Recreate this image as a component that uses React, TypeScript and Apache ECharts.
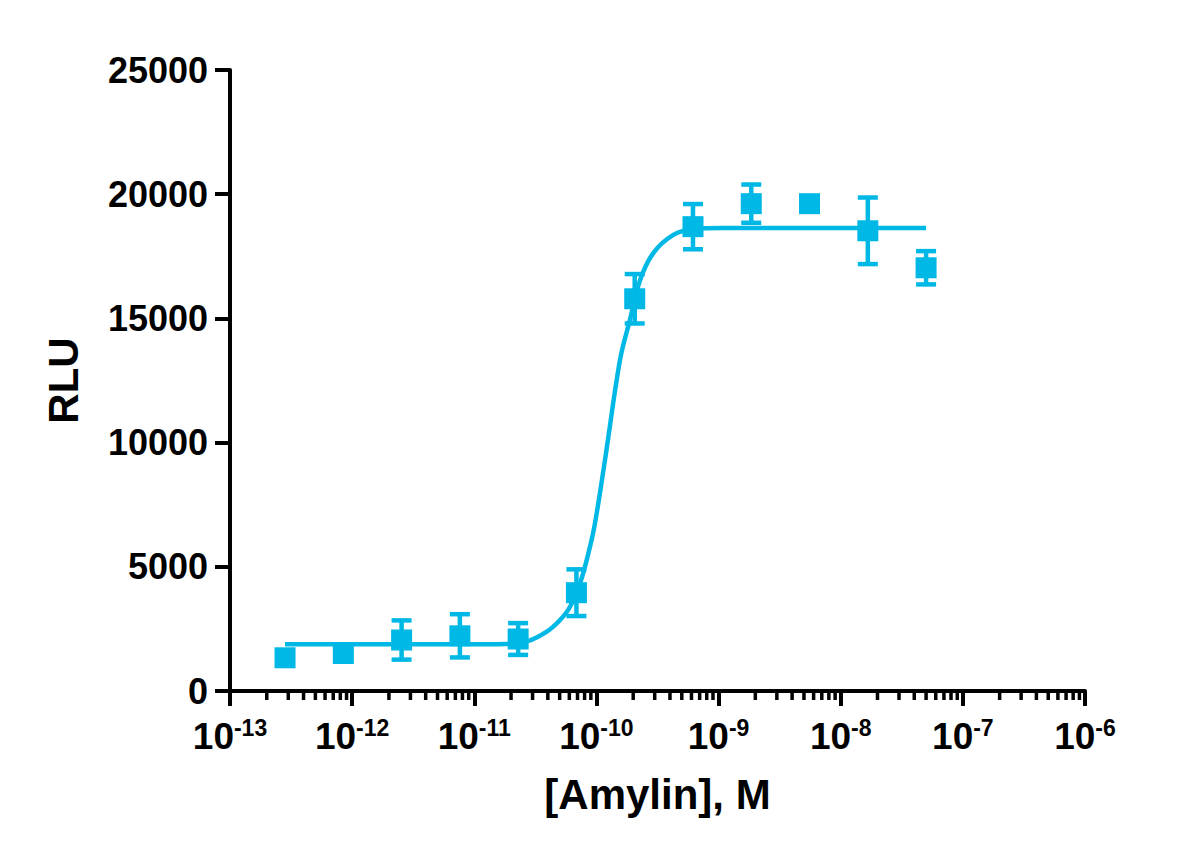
import React, { useEffect, useRef } from "react";
import * as echarts from "echarts";

// ---- data ----
const concentrations = [
  2.822e-13, 8.467e-13, 2.54e-12, 7.621e-12, 2.286e-11, 6.859e-11,
  2.058e-10, 6.173e-10, 1.852e-9, 5.556e-9, 1.667e-8, 5.0e-8,
];
const rluMean = [1337, 1510, 2053, 2222, 2093, 3958, 15790, 18693, 19619, 19619, 18527, 17038];
const rluSD = [150, 150, 790, 870, 640, 940, 995, 910, 770, 250, 1340, 670];

// fitted curve, points
const curveConc = [
  2.82e-13, 1.11e-11, 1.85e-11, 2.75e-11, 3.92e-11, 5.04e-11, 6.08e-11, 7.35e-11,
  8.32e-11, 9.62e-11, 1.175e-10, 1.56e-10, 1.88e-10, 2.28e-10, 2.92e-10, 4.26e-10,
  6.21e-10, 1.09e-9, 5.0e-8,
];
const curveRLU = [
  1880, 1885, 1895, 2010, 2390, 2860, 3390, 4350,
  5270, 6620, 9300, 13330, 14940, 16550, 17630, 18360,
  18600, 18640, 18640,
];

const xDecades = [-13, -12, -11, -10, -9, -8, -7, -6];
const minorMultipliers = [2, 3, 4, 5, 6, 7, 8, 9];
const yTicks = [0, 5000, 10000, 15000, 20000, 25000];

const COLOR = "#00B8E5";
const FONT = "'Liberation Sans', Arial, Helvetica, sans-serif";

export default function App() {
  const ref = useRef<HTMLDivElement | null>(null);

  useEffect(() => {
    if (!ref.current) return;
    const chart = echarts.init(ref.current, undefined, { renderer: "svg" });

    const lg = (c: number) => Math.log10(c);
    const points = concentrations.map((c, i) => [lg(c), rluMean[i]]);
    const errs = concentrations.map((c, i) => [lg(c), rluMean[i], rluSD[i]]);
    const curve = curveConc.map((c, i) => [lg(c), curveRLU[i]]);
    const minor: number[][] = [];
    xDecades.slice(0, -1).forEach((d) => {
      minorMultipliers.forEach((m) => minor.push([d + Math.log10(m), 0]));
    });

    chart.setOption({
      animation: false,
      backgroundColor: "#ffffff",
      grid: { left: 230, right: 115, top: 70, bottom: 168, containLabel: false },
      xAxis: {
        type: "value",
        min: xDecades[0],
        max: xDecades[xDecades.length - 1],
        interval: 1,
        name: "[Amylin], M",
        nameLocation: "middle",
        nameGap: 82,
        nameTextStyle: { fontFamily: FONT, fontWeight: "bold", fontSize: 42, color: "#000" },
        axisLine: { show: true, onZero: false, lineStyle: { color: "#000", width: 4 } },
        axisTick: { show: true, inside: false, length: 15, lineStyle: { color: "#000", width: 4 } },
        splitLine: { show: false },
        axisLabel: {
          margin: 25,
          formatter: (v: number) => `{b|10}{s|${Math.round(v)}}`,
          rich: {
            b: { fontFamily: FONT, fontWeight: "bold", fontSize: 37, color: "#000", lineHeight: 40 },
            s: {
              fontFamily: FONT,
              fontWeight: "bold",
              fontSize: 23,
              color: "#000",
              lineHeight: 22,
              verticalAlign: "top",
            },
          },
        },
      },
      yAxis: {
        type: "value",
        min: yTicks[0],
        max: yTicks[yTicks.length - 1],
        interval: 5000,
        name: "RLU",
        nameLocation: "middle",
        nameGap: 146,
        nameTextStyle: { fontFamily: FONT, fontWeight: "bold", fontSize: 42, color: "#000" },
        axisLine: { show: true, lineStyle: { color: "#000", width: 4 } },
        axisTick: { show: true, inside: false, length: 15, lineStyle: { color: "#000", width: 4 } },
        splitLine: { show: false },
        axisLabel: {
          margin: 22,
          formatter: (v: number) => String(v),
          fontFamily: FONT,
          fontWeight: "bold",
          fontSize: 36,
          color: "#000",
        },
      },
      series: [
        {
          type: "custom",
          name: "minorTicks",
          data: minor,
          clip: false,
          silent: true,
          encode: { x: 0, y: 1 },
          renderItem: (params: any, api: any) => {
            const p = api.coord([api.value(0), 0]);
            return {
              type: "line",
              shape: { x1: p[0], y1: p[1], x2: p[0], y2: p[1] + 9 },
              style: { stroke: "#000", lineWidth: 3.5 },
            };
          },
          z: 1,
        },
        {
          type: "line",
          name: "fit",
          data: curve,
          smooth: 0.35,
          showSymbol: false,
          symbol: "none",
          lineStyle: { color: COLOR, width: 4.5, opacity: 1 },
          z: 2,
        },
        {
          type: "custom",
          name: "errors",
          data: errs,
          encode: { x: 0, y: 1 },
          renderItem: (params: any, api: any) => {
            const x = api.value(0);
            const y = api.value(1);
            const e = api.value(2);
            const top = api.coord([x, y + e]);
            const bot = api.coord([x, y - e]);
            const half = 10;
            const st = { stroke: COLOR, lineWidth: 4.5 };
            return {
              type: "group",
              children: [
                { type: "line", shape: { x1: top[0], y1: top[1], x2: bot[0], y2: bot[1] }, style: st },
                { type: "line", shape: { x1: top[0] - half, y1: top[1], x2: top[0] + half, y2: top[1] }, style: st },
                { type: "line", shape: { x1: bot[0] - half, y1: bot[1], x2: bot[0] + half, y2: bot[1] }, style: st },
              ],
            };
          },
          z: 3,
        },
        {
          type: "scatter",
          name: "mean",
          data: points,
          symbol: "rect",
          symbolSize: 21,
          itemStyle: { color: COLOR, opacity: 1 },
          z: 4,
        },
      ],
    });

    return () => chart.dispose();
  }, []);

  return (
    <div
      ref={ref}
      style={{ position: "fixed", left: 0, top: 0, width: 1200, height: 859, background: "#fff" }}
    />
  );
}
